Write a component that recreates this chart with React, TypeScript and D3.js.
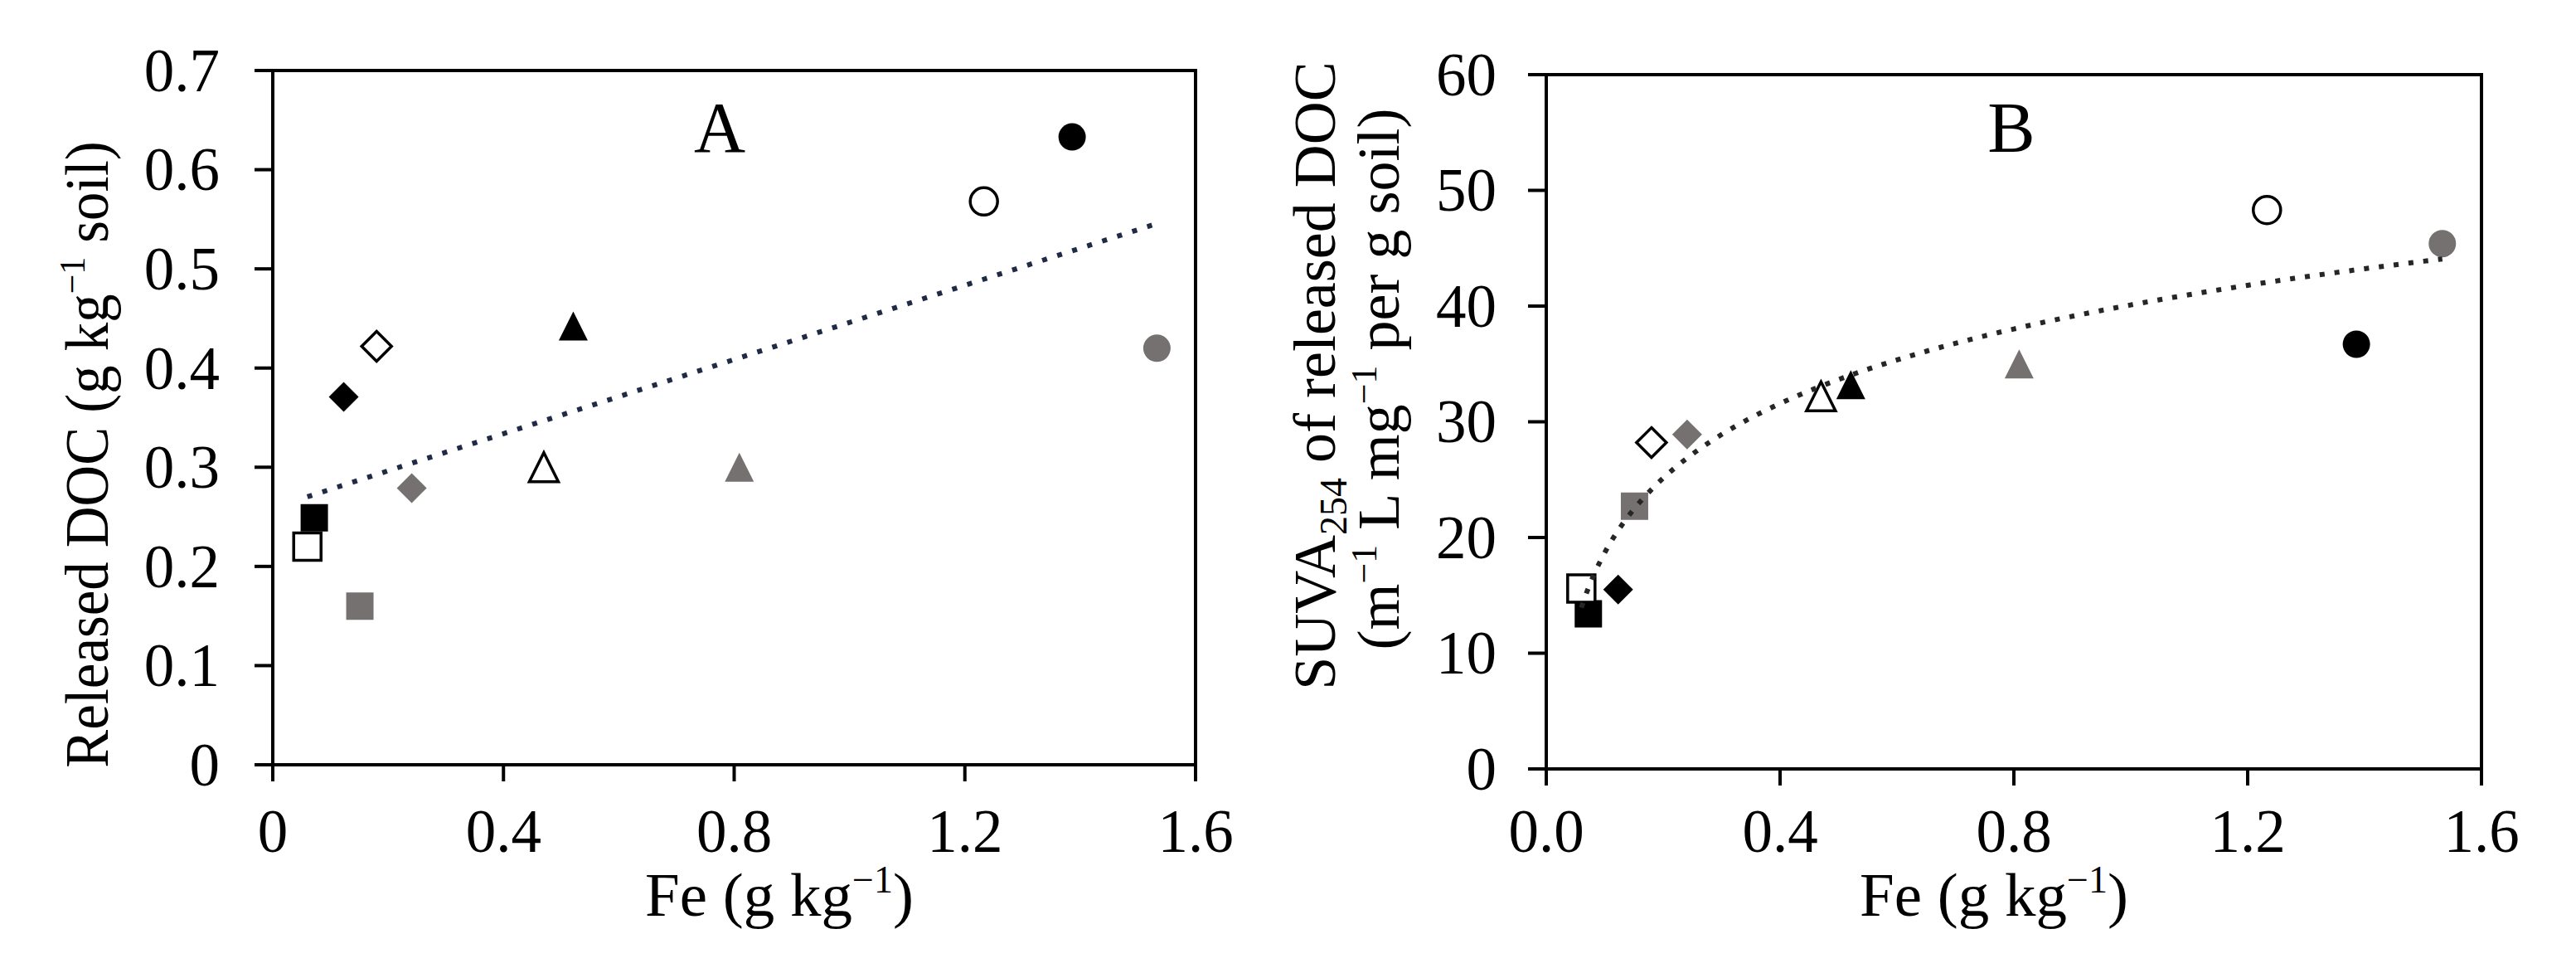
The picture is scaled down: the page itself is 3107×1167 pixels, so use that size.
import React from "react";
import * as d3 from "d3";

// samples: three colour variants (black / open / gray) for each marker shape
const sampleShapes = ["square", "square", "square", "diamond", "diamond", "diamond", "triangle", "triangle", "triangle", "circle", "circle", "circle"];
const sampleFills = ["black", "open", "gray", "black", "open", "gray", "black", "open", "gray", "black", "open", "gray"];

// Fe (g kg-1), shared by both panels
const feValues = [0.072, 0.06, 0.151, 0.123, 0.18, 0.241, 0.521, 0.47, 0.809, 1.386, 1.233, 1.533];
// panel A: released DOC (g kg-1 soil)
const releasedDoc = [0.249, 0.22, 0.16, 0.371, 0.422, 0.279, 0.4425, 0.3, 0.3, 0.633, 0.568, 0.42];
// panel B: SUVA254 of released DOC
const suva254 = [13.4, 15.6, 22.7, 15.5, 28.2, 28.9, 33.2, 32.2, 35.0, 36.7, 48.3, 45.4];

// trendlines
const trendA = { slope: 0.187, intercept: 0.259 }; // linear
const trendB = { a: 9.3, b: 40.1 }; // y = a ln(x) + b

const xTicksA = [0, 0.4, 0.8, 1.2, 1.6];
const yTicksA = [0, 0.1, 0.2, 0.3, 0.4, 0.5, 0.6, 0.7];
const yTicksB = [0, 10, 20, 30, 40, 50, 60];

const FONT = "'Liberation Serif', 'Times New Roman', Times, serif";
const GRAY = "#767171";

function markerPath(shape: string, cx: number, cy: number) {
  const p = d3.path();
  if (shape === "square") {
    const h = 16.5;
    p.rect(cx - h, cy - h, 2 * h, 2 * h);
  } else if (shape === "diamond") {
    const h = 18;
    p.moveTo(cx, cy - h);
    p.lineTo(cx + h, cy);
    p.lineTo(cx, cy + h);
    p.lineTo(cx - h, cy);
    p.closePath();
  } else if (shape === "triangle") {
    const h = 17.5;
    p.moveTo(cx, cy - h);
    p.lineTo(cx + h, cy + h);
    p.lineTo(cx - h, cy + h);
    p.closePath();
  } else {
    p.moveTo(cx + 16.5, cy);
    p.arc(cx, cy, 16.5, 0, Math.PI * 2);
    p.closePath();
  }
  return p.toString();
}

function Markers({ x, y, values }: any) {
  return (
    <g>
      {values.map((v: number, i: number) => {
        const kind = sampleFills[i];
        const open = kind === "open";
        return (
          <path
            key={i}
            d={markerPath(sampleShapes[i], x(feValues[i]), y(v))}
            fill={open ? "#fff" : kind === "gray" ? GRAY : "#000"}
            stroke={open ? "#000" : "none"}
            strokeWidth={open ? 3.5 : 0}
          />
        );
      })}
    </g>
  );
}

function Frame({ x, y, xTicks, yTicks, xFmt, yFmt, labelRight }: any) {
  const [l, r] = x.range();
  const [b, t] = y.range();
  return (
    <g>
      <rect x={l} y={t} width={r - l} height={b - t} fill="none" stroke="#000" strokeWidth={4} />
      {yTicks.map((v: number) => (
        <g key={"y" + v}>
          <line x1={l - 22} x2={l} y1={y(v)} y2={y(v)} stroke="#000" strokeWidth={4} />
          <text x={labelRight} y={y(v)} dy="0.34em" textAnchor="end" fontSize={73} fontFamily={FONT}>
            {yFmt(v)}
          </text>
        </g>
      ))}
      {xTicks.map((v: number) => (
        <g key={"x" + v}>
          <line x1={x(v)} x2={x(v)} y1={b} y2={b + 20} stroke="#000" strokeWidth={4} />
          <text x={x(v)} y={1027} textAnchor="middle" fontSize={73} fontFamily={FONT}>
            {xFmt(v)}
          </text>
        </g>
      ))}
    </g>
  );
}

function FeTitle({ cx }: { cx: number }) {
  return (
    <text x={cx} y={1104} textAnchor="middle" fontSize={75} fontFamily={FONT}>
      Fe (g kg
      <tspan fontSize={46} dy={-28}>−1</tspan>
      <tspan dy={28}>)</tspan>
    </text>
  );
}

export default function App() {
  // panel A
  const xA = d3.scaleLinear().domain([0, 1.6]).range([329, 1442]);
  const yA = d3.scaleLinear().domain([0, 0.7]).range([922, 85]);
  // panel B
  const xB = d3.scaleLinear().domain([0, 1.6]).range([1865, 2993]);
  const yB = d3.scaleLinear().domain([0, 60]).range([927, 90]);

  const [feMin, feMax] = d3.extent(feValues) as [number, number];
  const lineA = d3
    .line<number>()
    .x((d) => xA(d))
    .y((d) => yA(trendA.slope * d + trendA.intercept));
  const lineB = d3
    .line<number>()
    .x((d) => xB(d))
    .y((d) => yB(trendB.a * Math.log(d) + trendB.b))
    .curve(d3.curveMonotoneX);
  const xsB = d3.range(feMin, feMax, 0.01).concat([feMax]);

  return (
    <div style={{ position: "absolute", left: 0, top: 0 }}>
      <svg width={3107} height={1167} style={{ display: "block", background: "#fff" }}>
        <rect width={3107} height={1167} fill="#fff" />

        {/* Panel A */}
        <Frame x={xA} y={yA} xTicks={xTicksA} yTicks={yTicksA} xFmt={(v: number) => String(v)} yFmt={(v: number) => String(v)} labelRight={265} />
        <Markers x={xA} y={yA} values={releasedDoc} />
        <path d={lineA([feMin, feMax]) || ""} fill="none" stroke="#1F2A44" strokeWidth={6} strokeDasharray="6 13" />
        <text x={868} y={183} textAnchor="middle" fontSize={86} fontFamily={FONT}>A</text>
        <FeTitle cx={940} />
        <text transform="translate(130,548) rotate(-90) scale(0.93,1)" textAnchor="middle" fontSize={74} fontFamily={FONT}>
          Released DOC (g kg
          <tspan fontSize={45} dy={-28}>−1</tspan>
          <tspan dy={28}> soil)</tspan>
        </text>

        {/* Panel B */}
        <Frame x={xB} y={yB} xTicks={xTicksA} yTicks={yTicksB} xFmt={(v: number) => v.toFixed(1)} yFmt={(v: number) => String(v)} labelRight={1805} />
        <Markers x={xB} y={yB} values={suva254} />
        <path d={lineB(xsB) || ""} fill="none" stroke="#262626" strokeWidth={6} strokeDasharray="6 12" />
        <text x={2426} y={183} textAnchor="middle" fontSize={86} fontFamily={FONT}>B</text>
        <FeTitle cx={2405} />
        <text transform="translate(1610,453) rotate(-90)" textAnchor="middle" fontSize={72} fontFamily={FONT}>
          SUVA
          <tspan fontSize={46} dy={14}>254</tspan>
          <tspan dy={-14}> of released DOC</tspan>
        </text>
        <text transform="translate(1687,457) rotate(-90)" textAnchor="middle" fontSize={72} fontFamily={FONT}>
          (m
          <tspan fontSize={44} dy={-27}>−1</tspan>
          <tspan dy={27}> L mg</tspan>
          <tspan fontSize={44} dy={-27}>−1</tspan>
          <tspan dy={27}> per g soil)</tspan>
        </text>
      </svg>
    </div>
  );
}
